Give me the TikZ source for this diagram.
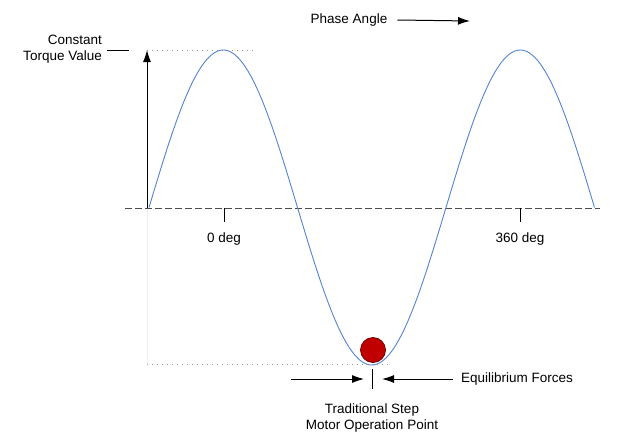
\documentclass[tikz,border=0pt]{standalone}
\usepackage{fontspec}
\setmainfont{Liberation Sans}
\usetikzlibrary{arrows.meta}

\definecolor{wave}{RGB}{84,130,212}
\definecolor{ballred}{RGB}{192,0,0}
\definecolor{ballrim}{RGB}{110,0,0}

\begin{document}
\begin{tikzpicture} [x=1pt, y=-1pt,
        every node/.style={font=\fontsize{13.5}{16.5}\selectfont, inner sep=0pt},
        guide/.style={gray!80, dash pattern=on 1.2pt off 3.8pt},
        faint/.style={gray!12},
        arr/.style={-{Latex[length=12pt,width=8pt]}, line width=1pt}]
            \useasboundingbox (0,0) rectangle (620,447);

            \node (torque) [anchor=east, align=right] at (102,49) {Constant\\Torque Value};
            \node (phase) at (349,20)   {Phase Angle};
            \node (zero) at (224,239)   {0 deg};
            \node (full) at (520,239)   {360 deg};
            \node (equil) [anchor=west] at (461,379) {Equilibrium Forces};
            \node (oper) [align=center] at (372,418) {Traditional Step\\Motor Operation Point};

            \coordinate (axisL) at (125,208);
            \coordinate (axisR) at (600,208);
            \coordinate (orig) at (147,208);
            \coordinate (peak) at (147,50);
            \coordinate (low) at (147,364);

            % guide lines
            \draw[guide] (peak) -- (253,50);
            \draw[guide] (low) -- (390,364);
            \draw[faint] (orig) -- (low);
            \draw[line width=1pt] (107,50) -- (129,50);

            % axis and ticks
            \draw[dashed, line width=1pt, dash pattern=on 6.5pt off 3.5pt, gray!60!black] (axisL) -- (axisR);
            \draw[line width=1pt] (224,208) -- (224,222);
            \draw[line width=1pt] (520,208) -- (520,222);
            \draw[arr] (orig) -- (peak);

            % the wave
            \draw[wave, line width=0.9pt] plot[domain=149:594.5, samples=240, smooth]
                (\x, {207.5 - 157.5*sin((\x-149)/297*360)});

            \node (ball) [circle, draw=ballrim, fill=ballred, line width=0.8pt, minimum size=25pt] at (373,350) {};

            % forces
            \coordinate (fromL) at (291,379);
            \coordinate (toL) at (364,379);
            \coordinate (fromR) at (453,379);
            \coordinate (toR) at (382,379);
            \draw[arr] (fromL) -- (toL);
            \draw[arr] (fromR) -- (toR);
            \draw[line width=1pt] (372,369) -- (372,389);

            \coordinate (phaseTo) at (470,21);
            \draw[arr] ([xshift=10pt]phase.east) -- (phaseTo);
        \end{tikzpicture}
\end{document}
